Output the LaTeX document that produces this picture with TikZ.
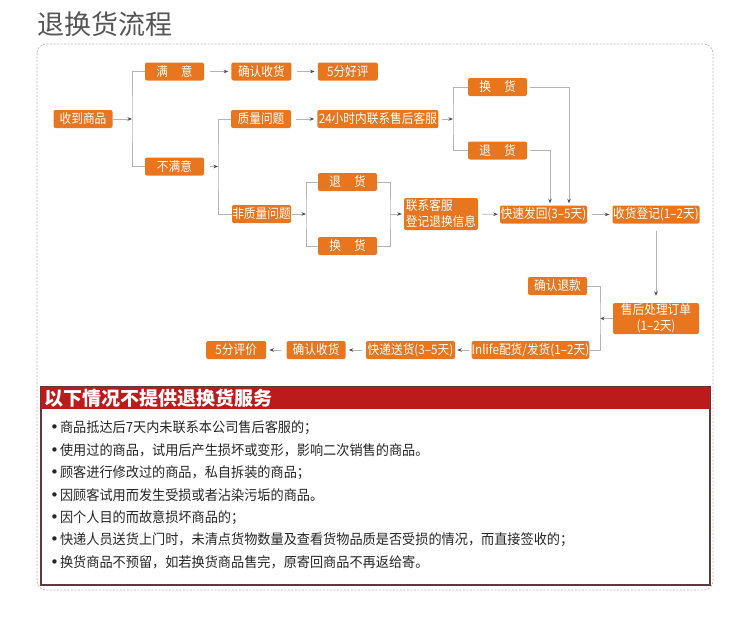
\documentclass[tikz,border=0pt]{standalone}
\usepackage{fontspec}
\setmainfont{Noto Sans CJK SC}
\newfontfamily\boxfont{Noto Sans CJK SC}[FakeStretch=0.9]
\newfontfamily\itemfont{Noto Sans CJK SC}[FakeStretch=0.94]
\newfontfamily\dotfont{DejaVu Sans}
\usepackage{tikz}
\usetikzlibrary{arrows.meta, positioning}
\usepackage{xcolor}

\definecolor{boxorange}{HTML}{E8761F}
\definecolor{linegray}{HTML}{B4B4B4}
\definecolor{tipgray}{HTML}{4A4A4A}
\definecolor{headred}{HTML}{BC1B1B}
\definecolor{panelline}{HTML}{5E3B3B}
\definecolor{titlegray}{HTML}{555555}
\definecolor{framegray}{HTML}{B8B8B8}

\newcommand{\itemdot}{{\dotfont\fontsize{15}{15}\selectfont •}\hspace{1pt}}

\begin{document}
\begin{tikzpicture}[
  x=1pt, y=-1pt,
  box/.style={
    fill=boxorange, rounded corners=2pt, text=white,
    minimum width=59pt, minimum height=18pt, inner sep=0pt,
    font=\boxfont\fontsize{13}{16}\selectfont
  },
  conn/.style={draw=linegray, line width=0.8pt},
  arr/.style={conn, -{Stealth[length=4.5pt, width=3.5pt, color=tipgray]}},
  item/.style={anchor=west, inner sep=0pt, text=black!85,
    font=\itemfont\fontsize{14}{15}\selectfont}
]
  \useasboundingbox (0,0) rectangle (750,621);

  \node[anchor=west, inner sep=0pt, text=titlegray,
    font=\fontsize{27}{30}\selectfont] (title) at (37,24) {退换货流程};
  \draw[framegray, line width=0.7pt, dash pattern=on 2pt off 1.5pt,
    rounded corners=9pt] (37,44) rectangle (713,590);

  % flow boxes
  \node[box] (recv) at (83,119) {收到商品};
  \node[box] (yes)  at (174.5,71.5) {满\hspace{1em}意};
  \node[box] (no)   at (174.5,166.5) {不满意};
  \node[box, minimum width=60pt] (ok1)   [right=27pt of yes] {确认收货};
  \node[box, minimum width=60pt] (good5) [right=26pt of ok1] {5分好评};
  \node[box, minimum width=60pt] (quality) at (261,119) {质量问题};
  \node[box, minimum width=121pt] (hotline) [right=26pt of quality] {24小时内联系售后客服};
  \node[box] (nonq)  at (261.5,214) {非质量问题};
  \node[box] (ret2)  at (347.5,182) {退\hspace{1em}货};
  \node[box] (exch2) at (347.5,246) {换\hspace{1em}货};
  \node[box, minimum width=74pt, minimum height=32pt, align=left]
    (contact) at (441,214) {联系客服\\登记退换信息};
  \node[box] (exch1) at (497.5,87) {换\hspace{1em}货};
  \node[box] (ret1)  at (497.5,150.5) {退\hspace{1em}货};
  \node[box, minimum width=87pt] (fastback) at (543.5,214.5) {快速发回(3–5天)};
  \node[box, minimum width=87pt] (register) at (656,214.5) {收货登记(1–2天)};
  \node[box, minimum width=86pt, minimum height=31pt, align=center]
    (process) at (656,318.5) {售后处理订单\\(1–2天)};
  \node[box] (refund) at (557.5,286) {确认退款};
  \node[box, minimum width=113pt] (inlife) at (530.5,350) {Inlife配货/发货(1–2天)};
  \node[box, minimum width=89pt] (express) at (410.5,350) {快递送货(3–5天)};
  \node[box] (ok2) [left=20pt of express] {确认收货};
  \node[box, minimum width=60pt] (rate5) [left=20pt of ok2] {5分评价};

  % branch points
  \coordinate (b1) at (132,119);
  \coordinate (b2) at (218,166.5);
  \coordinate (b3) at (453,119);
  \coordinate (b4) at (306,214);
  \coordinate (b5) at (390,214);
  \coordinate (b6) at (600,318.5);

  % connectors
  \draw[arr] (recv) -- (b1);
  \draw[conn] (yes.west) -| (b1) |- (no.west);
  \draw[arr, shorten <=6pt, shorten >=3pt] (yes) -- (ok1);
  \draw[arr, shorten <=5pt, shorten >=3pt] (ok1) -- (good5);
  \draw[arr, shorten <=6pt] (no) -- (b2);
  \draw[conn] (quality.west) -| (b2) |- (nonq.west);
  \draw[arr, shorten <=5pt, shorten >=3pt] (quality) -- (hotline);
  \draw[arr, shorten <=3pt] (hotline) -- (b3);
  \draw[conn] (exch1.west) -| (b3) |- (ret1.west);
  \draw[arr, shorten <=3pt, shorten >=2pt] (exch1.east) -| ([xshift=25.5pt]fastback.north);
  \draw[arr, shorten <=3pt, shorten >=2pt] (ret1.east) -| ([xshift=6.5pt]fastback.north);
  \draw[arr, shorten <=1pt] (nonq) -- (b4);
  \draw[conn] (ret2.west) -| (b4) |- (exch2.west);
  \draw[conn] (ret2.east) -| (b5) |- (exch2.east);
  \draw[arr, shorten >=2pt] (b5) -- (contact);
  \draw[arr, shorten <=4pt, shorten >=2pt] (contact) -- (fastback);
  \draw[arr, shorten <=5pt, shorten >=3pt] (fastback) -- (register);
  \draw[arr, shorten <=7pt, shorten >=7pt] (register) -- (process);
  \draw[arr] (process) -- (b6);
  \draw[conn] (refund.east) -| (b6) |- (inlife.east);
  \draw[arr, shorten <=3pt, shorten >=2pt] (inlife) -- (express);
  \draw[arr, shorten <=4pt, shorten >=3pt] (express) -- (ok2);
  \draw[arr, shorten <=5pt, shorten >=3pt] (ok2) -- (rate5);

  % exclusions panel
  \draw[panelline, line width=1.2pt, fill=white] (41,387) rectangle (710,585);
  \node[anchor=north west, fill=headred, text=white, inner xsep=3pt,
    inner ysep=0pt, text width=663pt, minimum height=22pt, align=left,
    font=\fontsize{19}{20}\selectfont\bfseries] (head) at (41,387)
    {以下情况不提供退换货服务};
  \node[item] (n1) at (50,428)   {\itemdot 商品抵达后7天内未联系本公司售后客服的；};
  \node[item] (n2) at (50,450.5) {\itemdot 使用过的商品，试用后产生损坏或变形，影响二次销售的商品。};
  \node[item] (n3) at (50,473)   {\itemdot 顾客进行修改过的商品，私自拆装的商品；};
  \node[item] (n4) at (50,495.5) {\itemdot 因顾客试用而发生受损或者沾染污垢的商品。};
  \node[item] (n5) at (50,517.5) {\itemdot 因个人目的而故意损坏商品的；};
  \node[item] (n6) at (50,540)   {\itemdot 快递人员送货上门时，未清点货物数量及查看货物品质是否受损的情况，而直接签收的；};
  \node[item] (n7) at (50,562)   {\itemdot 换货商品不预留，如若换货商品售完，原寄回商品不再返给寄。};
\end{tikzpicture}
\end{document}
